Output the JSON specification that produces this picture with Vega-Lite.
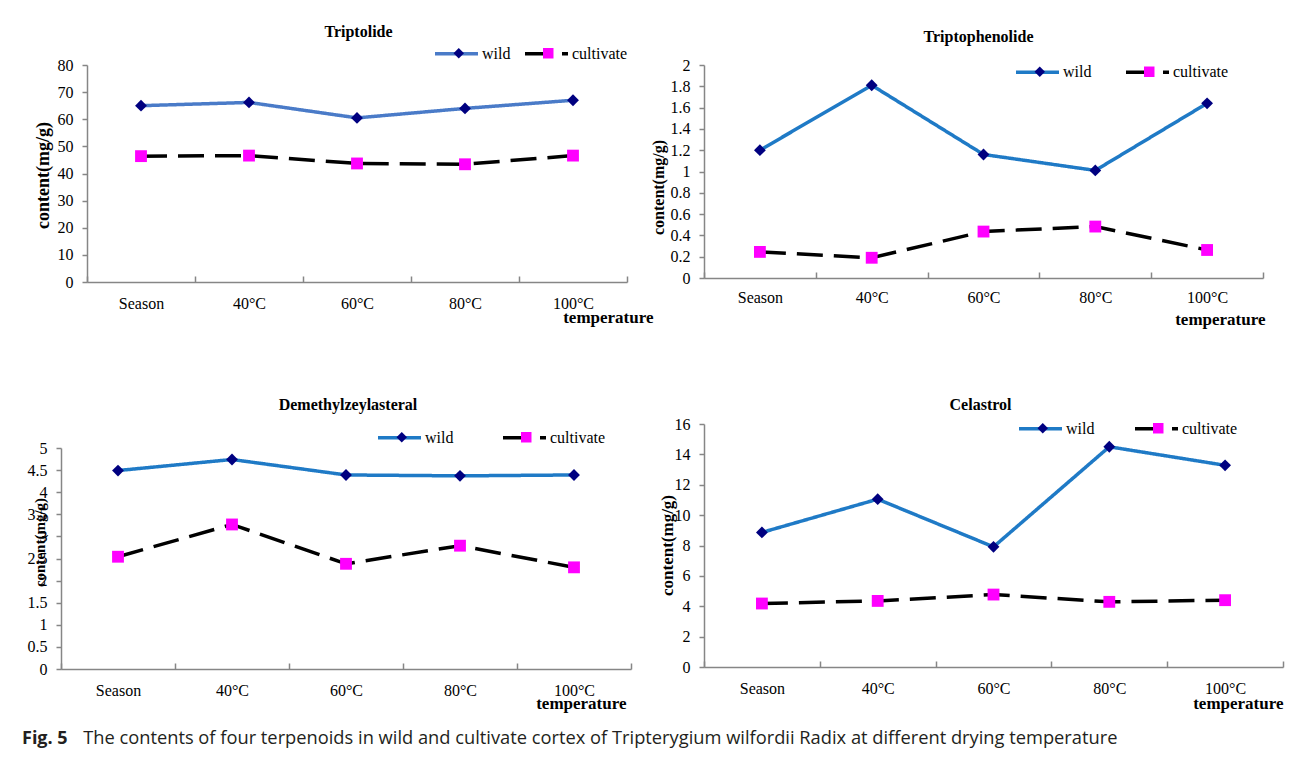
{
  "$schema": "https://vega.github.io/schema/vega-lite/v6.json",
  "padding": {"left": 22, "top": 24, "right": 8, "bottom": 4},
  "background": "white",
  "datasets": {
    "d": [
      {"compound": "Triptolide", "temp": "Season", "series": "wild", "value": 65.0},
      {"compound": "Triptolide", "temp": "40°C", "series": "wild", "value": 66.2},
      {"compound": "Triptolide", "temp": "60°C", "series": "wild", "value": 60.5},
      {"compound": "Triptolide", "temp": "80°C", "series": "wild", "value": 64.0},
      {"compound": "Triptolide", "temp": "100°C", "series": "wild", "value": 67.0},
      {"compound": "Triptolide", "temp": "Season", "series": "cultivate", "value": 46.4},
      {"compound": "Triptolide", "temp": "40°C", "series": "cultivate", "value": 46.6},
      {"compound": "Triptolide", "temp": "60°C", "series": "cultivate", "value": 43.7},
      {"compound": "Triptolide", "temp": "80°C", "series": "cultivate", "value": 43.4},
      {"compound": "Triptolide", "temp": "100°C", "series": "cultivate", "value": 46.6},
      {"compound": "Triptophenolide", "temp": "Season", "series": "wild", "value": 1.2},
      {"compound": "Triptophenolide", "temp": "40°C", "series": "wild", "value": 1.81},
      {"compound": "Triptophenolide", "temp": "60°C", "series": "wild", "value": 1.16},
      {"compound": "Triptophenolide", "temp": "80°C", "series": "wild", "value": 1.01},
      {"compound": "Triptophenolide", "temp": "100°C", "series": "wild", "value": 1.64},
      {"compound": "Triptophenolide", "temp": "Season", "series": "cultivate", "value": 0.245},
      {"compound": "Triptophenolide", "temp": "40°C", "series": "cultivate", "value": 0.19},
      {"compound": "Triptophenolide", "temp": "60°C", "series": "cultivate", "value": 0.436},
      {"compound": "Triptophenolide", "temp": "80°C", "series": "cultivate", "value": 0.483},
      {"compound": "Triptophenolide", "temp": "100°C", "series": "cultivate", "value": 0.263},
      {"compound": "Demethylzeylasteral", "temp": "Season", "series": "wild", "value": 4.49},
      {"compound": "Demethylzeylasteral", "temp": "40°C", "series": "wild", "value": 4.74},
      {"compound": "Demethylzeylasteral", "temp": "60°C", "series": "wild", "value": 4.39},
      {"compound": "Demethylzeylasteral", "temp": "80°C", "series": "wild", "value": 4.37},
      {"compound": "Demethylzeylasteral", "temp": "100°C", "series": "wild", "value": 4.39},
      {"compound": "Demethylzeylasteral", "temp": "Season", "series": "cultivate", "value": 2.54},
      {"compound": "Demethylzeylasteral", "temp": "40°C", "series": "cultivate", "value": 3.27},
      {"compound": "Demethylzeylasteral", "temp": "60°C", "series": "cultivate", "value": 2.38},
      {"compound": "Demethylzeylasteral", "temp": "80°C", "series": "cultivate", "value": 2.79},
      {"compound": "Demethylzeylasteral", "temp": "100°C", "series": "cultivate", "value": 2.3},
      {"compound": "Celastrol", "temp": "Season", "series": "wild", "value": 8.86},
      {"compound": "Celastrol", "temp": "40°C", "series": "wild", "value": 11.05},
      {"compound": "Celastrol", "temp": "60°C", "series": "wild", "value": 7.91},
      {"compound": "Celastrol", "temp": "80°C", "series": "wild", "value": 14.5},
      {"compound": "Celastrol", "temp": "100°C", "series": "wild", "value": 13.28},
      {"compound": "Celastrol", "temp": "Season", "series": "cultivate", "value": 4.18},
      {"compound": "Celastrol", "temp": "40°C", "series": "cultivate", "value": 4.35},
      {"compound": "Celastrol", "temp": "60°C", "series": "cultivate", "value": 4.77},
      {"compound": "Celastrol", "temp": "80°C", "series": "cultivate", "value": 4.29},
      {"compound": "Celastrol", "temp": "100°C", "series": "cultivate", "value": 4.4}
    ]
  },
  "title": {
    "text": "Fig. 5",
    "subtitle": "\u2800\u2800\u2800\u2800\u2002The contents of four terpenoids in wild and cultivate cortex of Tripterygium wilfordii Radix at different drying temperature",
    "orient": "bottom",
    "anchor": "start",
    "frame": "bounds",
    "baseline": "top",
    "offset": 19,
    "dx": -5,
    "font": "Open Sans",
    "fontSize": 18,
    "fontWeight": "bold",
    "color": "#231f20",
    "subtitleFont": "Open Sans",
    "subtitleFontSize": 18.3,
    "subtitleColor": "#231f20",
    "subtitlePadding": -18
  },
  "resolve": {
    "scale": {"stroke": "independent", "strokeDash": "independent", "color": "independent", "shape": "independent"},
    "legend": {"stroke": "independent", "strokeDash": "independent", "color": "independent", "shape": "independent"}
  },
  "concat": [
    {
      "width": 583, "height": 217,
      "title": {"text": "Triptolide", "offset": -10, "dx": 6},
      "data": {"name": "d"},
      "transform": [{"filter": "datum.compound === 'Triptolide'"}],
      "encoding": {
        "x": {"field": "temp", "type": "nominal", "sort": ["Season", "40°C", "60°C", "80°C", "100°C"],
              "scale": {"type": "band", "paddingInner": 0, "paddingOuter": 0, "range": [26, 566]},
              "axis": {"title": "temperature", "titleX": 592, "titleY": 35}},
        "y": {"field": "value", "type": "quantitative", "scale": {"domain": [0, 80]},
              "axis": {"title": "content(mg/g)", "values": [0, 10, 20, 30, 40, 50, 60, 70, 80], "offset": -26, "titleX": -44, "titleY": 110, "titleFontSize": 18}}
      },
      "layer": [
        {"mark": {"type": "line", "strokeWidth": 3.5},
         "encoding": {
           "stroke": {"field": "series", "type": "nominal", "scale": {"domain": ["wild", "cultivate"], "range": ["#4a7bc8", "#000000"]},
                      "legend": {"legendX": 372, "legendY": -35, "columnPadding": 7, "symbolType": "stroke", "symbolSize": 1849, "symbolStrokeWidth": 3.5}},
           "strokeDash": {"field": "series", "type": "nominal", "scale": {"domain": ["wild", "cultivate"], "range": [[1, 0], [26, 11]]},
                      "legend": {"legendX": 372, "legendY": -35, "columnPadding": 7, "symbolType": "stroke", "symbolSize": 1849, "symbolStrokeWidth": 3.5}}
         }},
        {"mark": {"type": "point", "filled": true, "opacity": 1, "size": 140},
         "encoding": {
           "color": {"field": "series", "type": "nominal", "sort": "descending", "scale": {"range": ["#000080", "#ff00ff"]},
                     "legend": {"legendX": 389.75, "legendY": -19.75, "columnPadding": 42.5, "labelOpacity": 0, "symbolSize": 110, "symbolStrokeWidth": 0}},
           "shape": {"field": "series", "type": "nominal", "sort": "descending", "scale": {"range": ["diamond", "square"]},
                     "legend": {"legendX": 389.75, "legendY": -19.75, "columnPadding": 42.5, "labelOpacity": 0, "symbolSize": 110, "symbolStrokeWidth": 0}}
         }}
      ]
    },
    {
      "width": 559, "height": 217,
      "title": {"text": "Triptophenolide", "offset": 3.5, "dx": -5},
      "data": {"name": "d"},
      "transform": [{"filter": "datum.compound === 'Triptophenolide'"}],
      "encoding": {
        "x": {"field": "temp", "type": "nominal", "sort": ["Season", "40°C", "60°C", "80°C", "100°C"],
              "scale": {"type": "band", "paddingInner": 0, "paddingOuter": 0},
              "axis": {"title": "temperature", "titleX": 561, "titleY": 41, "offset": -4, "labelPadding": 17}},
        "y": {"field": "value", "type": "quantitative", "scale": {"domain": [0, 2], "range": [213, 0]},
              "axis": {"title": "content(mg/g)", "values": [0, 0.2, 0.4, 0.6, 0.8, 1, 1.2, 1.4, 1.6, 1.8, 2], "titleX": -46, "titleY": 122, "titleFontSize": 16}}
      },
      "layer": [
        {"mark": {"type": "line", "strokeWidth": 3.5},
         "encoding": {
           "stroke": {"field": "series", "type": "nominal", "scale": {"domain": ["wild", "cultivate"], "range": ["#1f7ac6", "#000000"]},
                      "legend": {"legendX": 310, "legendY": -16.5, "columnPadding": 27, "symbolType": "stroke", "symbolSize": 1849, "symbolStrokeWidth": 3.5}},
           "strokeDash": {"field": "series", "type": "nominal", "scale": {"domain": ["wild", "cultivate"], "range": [[1, 0], [26, 11]]},
                      "legend": {"legendX": 310, "legendY": -16.5, "columnPadding": 27, "symbolType": "stroke", "symbolSize": 1849, "symbolStrokeWidth": 3.5}}
         }},
        {"mark": {"type": "point", "filled": true, "opacity": 1, "size": 140},
         "encoding": {
           "color": {"field": "series", "type": "nominal", "sort": "descending", "scale": {"range": ["#000080", "#ff00ff"]},
                     "legend": {"legendX": 327.75, "legendY": -1.25, "columnPadding": 62.5, "labelOpacity": 0, "symbolSize": 110, "symbolStrokeWidth": 0}},
           "shape": {"field": "series", "type": "nominal", "sort": "descending", "scale": {"range": ["diamond", "square"]},
                     "legend": {"legendX": 327.75, "legendY": -1.25, "columnPadding": 62.5, "labelOpacity": 0, "symbolSize": 110, "symbolStrokeWidth": 0}}
         }}
      ]
    },
    {
      "width": 570, "height": 245,
      "title": {"text": "Demethylzeylasteral", "offset": 1, "dx": 2},
      "data": {"name": "d"},
      "transform": [{"filter": "datum.compound === 'Demethylzeylasteral'"}],
      "encoding": {
        "x": {"field": "temp", "type": "nominal", "sort": ["Season", "40°C", "60°C", "80°C", "100°C"],
              "scale": {"type": "band", "paddingInner": 0, "paddingOuter": 0},
              "axis": {"title": "temperature", "titleX": 565, "titleY": 34}},
        "y": {"field": "value", "type": "quantitative", "scale": {"domain": [0, 5], "range": [245, 24]},
              "axis": {"title": "content(mg/g)", "values": [0, 0.5, 1, 1.5, 2, 2.5, 3, 3.5, 4, 4.5, 5], "titleX": -22, "titleY": 118, "titleFontSize": 15}}
      },
      "layer": [
        {"mark": {"type": "line", "strokeWidth": 3.5},
         "encoding": {
           "stroke": {"field": "series", "type": "nominal", "scale": {"domain": ["wild", "cultivate"], "range": ["#1f7ac6", "#000000"]},
                      "legend": {"legendX": 315, "legendY": -10, "columnPadding": 42, "symbolType": "stroke", "symbolSize": 1849, "symbolStrokeWidth": 3.5}},
           "strokeDash": {"field": "series", "type": "nominal", "scale": {"domain": ["wild", "cultivate"], "range": [[1, 0], [26, 11]]},
                      "legend": {"legendX": 315, "legendY": -10, "columnPadding": 42, "symbolType": "stroke", "symbolSize": 1849, "symbolStrokeWidth": 3.5}}
         }},
        {"mark": {"type": "point", "filled": true, "opacity": 1, "size": 140},
         "encoding": {
           "color": {"field": "series", "type": "nominal", "sort": "descending", "scale": {"range": ["#000080", "#ff00ff"]},
                     "legend": {"legendX": 332.75, "legendY": 5.25, "columnPadding": 77.5, "labelOpacity": 0, "symbolSize": 110, "symbolStrokeWidth": 0}},
           "shape": {"field": "series", "type": "nominal", "sort": "descending", "scale": {"range": ["diamond", "square"]},
                     "legend": {"legendX": 332.75, "legendY": 5.25, "columnPadding": 77.5, "labelOpacity": 0, "symbolSize": 110, "symbolStrokeWidth": 0}}
         }}
      ]
    },
    {
      "width": 579, "height": 243,
      "title": {"text": "Celastrol", "offset": -8, "dx": -13},
      "data": {"name": "d"},
      "transform": [{"filter": "datum.compound === 'Celastrol'"}],
      "encoding": {
        "x": {"field": "temp", "type": "nominal", "sort": ["Season", "40°C", "60°C", "80°C", "100°C"],
              "scale": {"type": "band", "paddingInner": 0, "paddingOuter": 0},
              "axis": {"title": "temperature", "titleX": 579, "titleY": 36}},
        "y": {"field": "value", "type": "quantitative", "scale": {"domain": [0, 16]},
              "axis": {"title": "content(mg/g)", "values": [0, 2, 4, 6, 8, 10, 12, 14, 16], "titleX": -37, "titleY": 121, "titleFontSize": 17}}
      },
      "layer": [
        {"mark": {"type": "line", "strokeWidth": 3.5},
         "encoding": {
           "stroke": {"field": "series", "type": "nominal", "scale": {"domain": ["wild", "cultivate"], "range": ["#1f7ac6", "#000000"]},
                      "legend": {"legendX": 313, "legendY": -19, "columnPadding": 33, "symbolType": "stroke", "symbolSize": 1849, "symbolStrokeWidth": 3.5}},
           "strokeDash": {"field": "series", "type": "nominal", "scale": {"domain": ["wild", "cultivate"], "range": [[1, 0], [26, 11]]},
                      "legend": {"legendX": 313, "legendY": -19, "columnPadding": 33, "symbolType": "stroke", "symbolSize": 1849, "symbolStrokeWidth": 3.5}}
         }},
        {"mark": {"type": "point", "filled": true, "opacity": 1, "size": 140},
         "encoding": {
           "color": {"field": "series", "type": "nominal", "sort": "descending", "scale": {"range": ["#000080", "#ff00ff"]},
                     "legend": {"legendX": 330.75, "legendY": -3.75, "columnPadding": 68.5, "labelOpacity": 0, "symbolSize": 110, "symbolStrokeWidth": 0}},
           "shape": {"field": "series", "type": "nominal", "sort": "descending", "scale": {"range": ["diamond", "square"]},
                     "legend": {"legendX": 330.75, "legendY": -3.75, "columnPadding": 68.5, "labelOpacity": 0, "symbolSize": 110, "symbolStrokeWidth": 0}}
         }}
      ]
    }
  ],
  "columns": 2,
  "align": "none",
  "bounds": "flush",
  "spacing": {"row": 142, "column": 60},
  "config": {
    "view": {"stroke": null},
    "font": "Liberation Serif",
    "title": {"frame": "group", "baseline": "middle", "font": "Liberation Serif", "fontSize": 16, "fontWeight": "bold", "color": "#000000"},
    "axis": {"grid": false, "domainColor": "#868686", "tickColor": "#868686", "domainWidth": 1.5, "tickWidth": 1.5,
             "labelColor": "#000000", "titleColor": "#000000", "labelFont": "Liberation Serif", "titleFont": "Liberation Serif",
             "labelFontSize": 16, "titleFontWeight": "bold"},
    "axisX": {"tickBand": "extent", "tickSize": -6, "labelAngle": 0, "labelPadding": 19, "titleFontSize": 17, "titleAlign": "right", "titleBaseline": "middle"},
    "axisY": {"tickSize": 5, "labelPadding": 9, "format": "~r", "titleAngle": 270, "titleAlign": "center", "titleBaseline": "middle"},
    "legend": {"orient": "none", "direction": "horizontal", "title": null, "labelFont": "Liberation Serif", "labelFontSize": 16, "labelColor": "#000000",
               "labelOffset": 2, "padding": 0}
  }
}
